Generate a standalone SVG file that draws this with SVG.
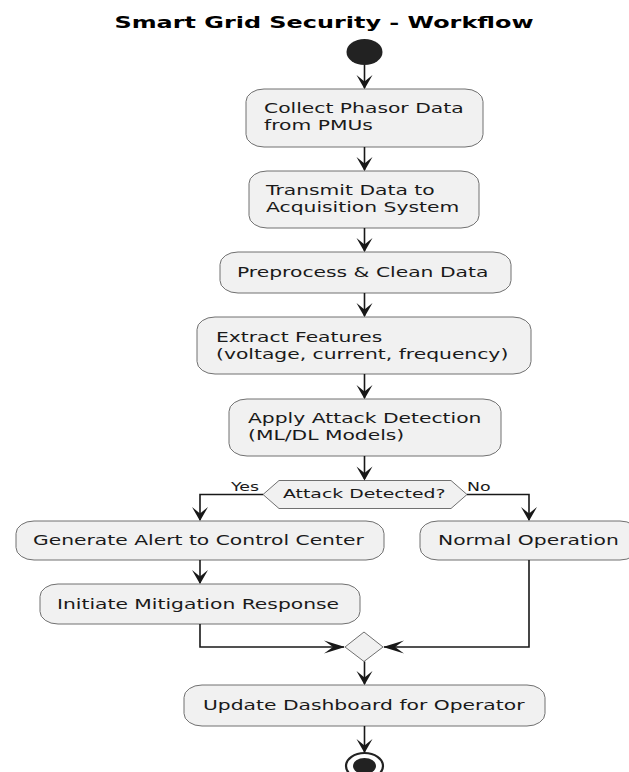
<svg xmlns="http://www.w3.org/2000/svg" width="629" height="772" viewBox="0 0 629 772">
<style>
.box{fill:#F1F1F1;stroke:#707070;stroke-width:1}
.ln{fill:none;stroke:#181818;stroke-width:1.6}
.ah{fill:#181818;stroke:none}
.t{font-family:"DejaVu Sans",sans-serif;font-size:14px;fill:#1a1a1a}
.d{font-family:"DejaVu Sans",sans-serif;font-size:13px;fill:#1a1a1a}
.l{font-family:"DejaVu Sans",sans-serif;font-size:12px;fill:#1a1a1a}
.title{font-family:"DejaVu Sans",sans-serif;font-size:16.5px;font-weight:bold;fill:#000}
</style>
<defs>
<path id="ad" d="M-8,-14 L0,0 L8,-14 L0,-7.5 Z"/>
<path id="ar" d="M-21,-6.5 L0,0 L-21,6.5 L-12,0 Z"/>
</defs>
<rect width="629" height="772" fill="#fff"/>
<g transform="scale(1.45,1)">
<text class="title" x="223.45" y="28" text-anchor="middle">Smart Grid Security - Workflow</text>
</g>
<g id="start"><ellipse cx="364.5" cy="52" rx="18" ry="13" fill="#222"/></g>
<g id="collect">
<rect class="box" x="246" y="89" width="237" height="58" rx="18" ry="12.5"/>
<g transform="scale(1.45,1)"><text class="t" x="182.07" y="113">Collect Phasor Data</text><text class="t" x="182.07" y="130">from PMUs</text></g>
</g>
<g id="transmit">
<rect class="box" x="249" y="171" width="230" height="57" rx="18" ry="12.5"/>
<g transform="scale(1.45,1)"><text class="t" x="183.45" y="195">Transmit Data to</text><text class="t" x="183.45" y="212">Acquisition System</text></g>
</g>
<g id="preprocess">
<rect class="box" x="220" y="252" width="291" height="41" rx="18" ry="12.5"/>
<g transform="scale(1.45,1)"><text class="t" x="163.45" y="277">Preprocess &amp; Clean Data</text></g>
</g>
<g id="extract">
<rect class="box" x="197" y="317" width="334" height="57" rx="18" ry="12.5"/>
<g transform="scale(1.45,1)"><text class="t" x="148.97" y="342">Extract Features</text><text class="t" x="148.97" y="359">(voltage, current, frequency)</text></g>
</g>
<g id="detect">
<rect class="box" x="229" y="399" width="272" height="57" rx="18" ry="12.5"/>
<g transform="scale(1.45,1)"><text class="t" x="171.03" y="423">Apply Attack Detection</text><text class="t" x="171.03" y="440">(ML/DL Models)</text></g>
</g>
<g id="decision">
<polygon class="box" points="263,494.5 279,480.5 451,480.5 467,494.5 451,508.5 279,508.5"/>
<g transform="scale(1.45,1)"><text class="d" x="195.17" y="498">Attack Detected?</text></g>
</g>
<g id="alert">
<rect class="box" x="16" y="521" width="368" height="39" rx="18" ry="12.5"/>
<g transform="scale(1.45,1)"><text class="t" x="22.76" y="545.5">Generate Alert to Control Center</text></g>
</g>
<g id="normal">
<rect class="box" x="420" y="521" width="218" height="39" rx="18" ry="12.5"/>
<g transform="scale(1.45,1)"><text class="t" x="302.07" y="545.5">Normal Operation</text></g>
</g>
<g id="mitigate">
<rect class="box" x="40" y="584" width="320" height="40" rx="18" ry="12.5"/>
<g transform="scale(1.45,1)"><text class="t" x="39.31" y="609.5">Initiate Mitigation Response</text></g>
</g>
<g id="merge"><polygon class="box" points="364,632 383,647 364,661.5 345,647"/></g>
<g id="dashboard">
<rect class="box" x="184" y="685" width="361" height="41" rx="18" ry="12.5"/>
<g transform="scale(1.45,1)"><text class="t" x="140" y="710.5">Update Dashboard for Operator</text></g>
</g>
<g id="end">
<ellipse cx="364.5" cy="766" rx="18.5" ry="13" fill="#fff" stroke="#222" stroke-width="2.2"/>
<ellipse cx="364.5" cy="766" rx="11.5" ry="8" fill="#222"/>
</g>
<g id="connectors">
<path class="ln" d="M364.5,65 V88"/><use href="#ad" class="ah" x="364.5" y="89"/>
<path class="ln" d="M364.5,147 V170"/><use href="#ad" class="ah" x="364.5" y="171"/>
<path class="ln" d="M364.5,228 V251"/><use href="#ad" class="ah" x="364.5" y="252"/>
<path class="ln" d="M364.5,293 V316"/><use href="#ad" class="ah" x="364.5" y="317"/>
<path class="ln" d="M364.5,374 V398"/><use href="#ad" class="ah" x="364.5" y="399"/>
<path class="ln" d="M364.5,456 V479"/><use href="#ad" class="ah" x="364.5" y="480.5"/>
<path class="ln" d="M263,494.5 H200 V520"/><use href="#ad" class="ah" x="200" y="521"/>
<path class="ln" d="M467,494.5 H529 V520"/><use href="#ad" class="ah" x="529" y="521"/>
<path class="ln" d="M200,560 V583"/><use href="#ad" class="ah" x="200" y="584"/>
<path class="ln" d="M200,624 V647 H344"/><use href="#ar" class="ah" x="345" y="647"/>
<path class="ln" d="M529,560 V647 H384"/><use href="#ar" class="ah" transform="translate(383,647) rotate(180)"/>
<path class="ln" d="M364.5,661.5 V684"/><use href="#ad" class="ah" x="364.5" y="685"/>
<path class="ln" d="M364.5,726 V752"/><use href="#ad" class="ah" x="364.5" y="753"/>
<g transform="scale(1.45,1)"><text class="l" x="159.3" y="491">Yes</text><text class="l" x="322.07" y="491">No</text></g>
</g>
</svg>
